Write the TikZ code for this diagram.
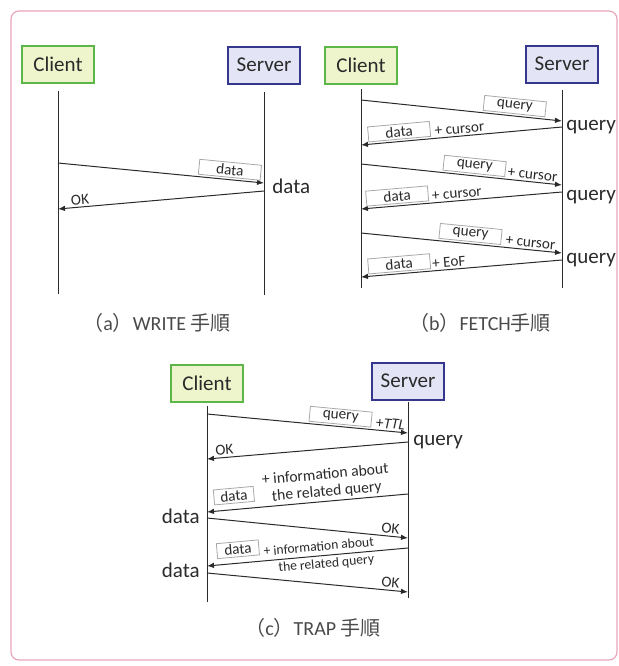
\documentclass[tikz,border=0pt]{standalone}
\usepackage{fontspec}
\setmainfont{Carlito}
\newfontfamily\jpfont{Noto Sans CJK JP}
\usetikzlibrary{arrows.meta}

\definecolor{cligreen}{HTML}{5DB648}
\definecolor{clifill}{HTML}{EEF4CC}
\definecolor{srvblue}{HTML}{34378C}
\definecolor{srvfill}{HTML}{E3E4F5}
\definecolor{framepink}{HTML}{E8A6B8}
\definecolor{ink}{HTML}{2A2A2A}
\definecolor{boxgray}{HTML}{A8A8A8}

\begin{document}
\begin{tikzpicture}[x=0.5pt,y=-0.5pt,
	client/.style={draw=cligreen,fill=clifill,line width=1pt,minimum width=36pt,minimum height=18.5pt,inner sep=1pt,text=ink,font=\fontsize{10.5}{12}\selectfont},
	server/.style={client,draw=srvblue,fill=srvfill},
	life/.style={draw=ink,line width=0.5pt},
	msg/.style={life,-{Latex[length=3.5pt,width=2.8pt]}},
	pkt/.style={draw=boxgray,fill=white,line width=0.4pt,minimum width=31pt,minimum height=7.5pt,inner sep=0.3pt,text=ink,font=\fontsize{7.6}{8}\selectfont,sloped,above=1pt},
	tag/.style={inner sep=0.5pt,text=ink,font=\fontsize{7.6}{8.6}\selectfont,sloped,above=0.5pt},
	state/.style={inner sep=0pt,text=ink,font=\fontsize{10.5}{12}\selectfont},
	subcap/.style={text=ink!85,font=\fontsize{10}{12}\selectfont}]

	\useasboundingbox (0,0) rectangle (619,666);
	\draw[framepink,line width=0.6pt,rounded corners=4pt] (11,11) rectangle (617,660);

	% (a) WRITE
	\node[client] (cliA) at (58,64) {Client};
	\node[server] (srvA) at (264,65) {Server};
	\draw[life] (cliA |- 0,91) -- (cliA |- 0,294);
	\draw[life] (srvA |- 0,92) -- (srvA |- 0,295);
	\draw[msg] (cliA |- 0,163) -- (srvA |- 0,183) node[pkt,pos=0.83] (pA1) {data};
	\draw[msg] (srvA |- 0,191) -- (cliA |- 0,209) node[tag,pos=0.89] (okA) {OK};
	\node[state,anchor=base west] (stA) at (272,193) {data};
	\node[subcap] (capA) at (157,323) {{\jpfont （}a{\jpfont ）}WRITE {\jpfont 手順}};

	% (b) FETCH
	\node[client] (cliB) at (361,65) {Client};
	\node[server] (srvB) at (562,64) {Server};
	\draw[life] (cliB |- 0,89) -- (cliB |- 0,288);
	\draw[life] (srvB |- 0,90) -- (srvB |- 0,288);
	\draw[msg] (cliB |- 0,100) -- (srvB |- 0,121) node[pkt,pos=0.76] (qB1) {query};
	\draw[msg] (srvB |- 0,127) -- (cliB |- 0,145) node[pkt,pos=0.806] (dB1) {data}
		node[tag,pos=0.507] (tB1) {+ cursor};
	\draw[msg] (cliB |- 0,164) -- (srvB |- 0,185) node[pkt,pos=0.56] (qB2) {query}
		node[tag,pos=0.85] (tB2) {+ cursor};
	\draw[msg] (srvB |- 0,192) -- (cliB |- 0,209) node[pkt,pos=0.816] (dB2) {data}
		node[tag,pos=0.52] (tB3) {+ cursor};
	\draw[msg] (cliB |- 0,233) -- (srvB |- 0,253) node[pkt,pos=0.54] (qB3) {query}
		node[tag,pos=0.84] (tB4) {+ cursor};
	\draw[msg] (srvB |- 0,260) -- (cliB |- 0,277) node[pkt,pos=0.806] (dB3) {data}
		node[tag,pos=0.56] (tB5) {+ EoF};
	\node[state,anchor=base west] (stB1) at (566,130) {query};
	\node[state,anchor=base west] (stB2) at (566,200) {query};
	\node[state,anchor=base west] (stB3) at (566,263) {query};
	\node[subcap] (capB) at (480,323) {{\jpfont （}b{\jpfont ）}FETCH{\jpfont 手順}};

	% (c) TRAP
	\node[client] (cliC) at (207,383) {Client};
	\node[server] (srvC) at (408,381) {Server};
	\draw[life] (cliC |- 0,406) -- (cliC |- 0,602);
	\draw[life] (srvC |- 0,402) -- (srvC |- 0,598);
	\draw[msg] (cliC |- 0,414) -- (srvC |- 0,433) node[pkt,pos=0.66] (qC1) {query}
		node[tag,pos=0.91] (tC1) {+\textit{TTL}};
	\draw[msg] (srvC |- 0,442) -- (cliC |- 0,459) node[tag,pos=0.91] (okC1) {OK};
	\draw[msg] (srvC |- 0,494) -- (cliC |- 0,512) node[pkt,pos=0.86,minimum width=20pt,above=2pt] (dC1) {data}
		node[tag,pos=0.40,align=center,font=\fontsize{7.8}{8.6}\selectfont] (tC2) {+ information about\\the related query};
	\draw[msg] (cliC |- 0,518) -- (srvC |- 0,538) node[tag,pos=0.91] (okC2) {OK};
	\draw[msg] (srvC |- 0,548) -- (cliC |- 0,566) node[pkt,pos=0.84,minimum width=21pt,above=2pt] (dC2) {data}
		node[tag,pos=0.44,above=1.2pt,font=\fontsize{6.8}{8}\selectfont] (tC3) {+ information about}
		node[tag,pos=0.41,below=1.2pt,font=\fontsize{6.8}{8}\selectfont] (tC4) {the related query};
	\draw[msg] (cliC |- 0,573) -- (srvC |- 0,592) node[tag,pos=0.91] (okC3) {OK};
	\node[state,anchor=base west] (stC1) at (413,445) {query};
	\node[state,anchor=base east] (stC2) at (200,523) {data};
	\node[state,anchor=base east] (stC3) at (200,577) {data};
	\node[subcap] (capC) at (313,628) {{\jpfont （}c{\jpfont ）}TRAP {\jpfont 手順}};
\end{tikzpicture}
\end{document}
